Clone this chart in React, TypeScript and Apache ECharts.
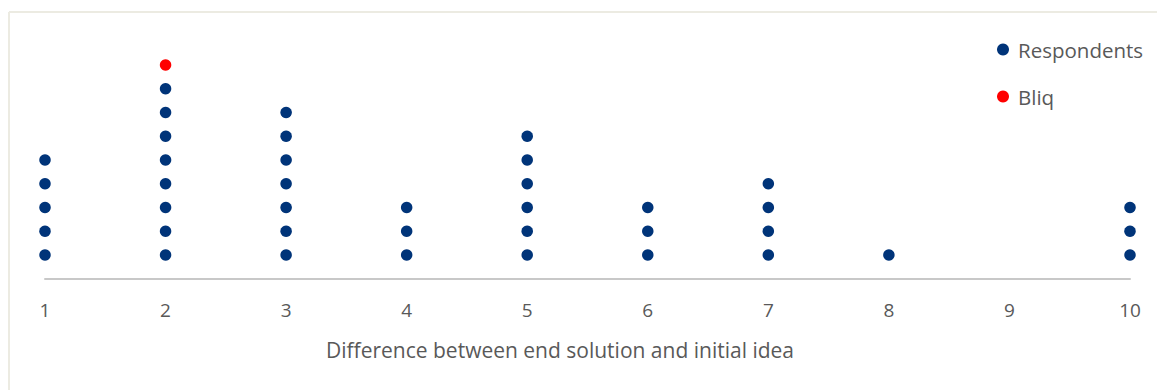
import React, { useEffect, useRef } from "react";
import * as echarts from "echarts";

const xValues = [1, 2, 3, 4, 5, 6, 7, 8, 9, 10];
const respondentCounts = [5, 8, 7, 3, 6, 3, 4, 1, 0, 3];
const bliqX = 2;
const bliqY = 9;
const xAxisTitle = "Difference between end solution and initial idea";

const BLUE = "#003479";
const RED = "#ff0000";
const GREY_TEXT = "#595959";
const FONT = "'Open Sans', 'Noto Sans', sans-serif";

export default function App() {
  const ref = useRef<HTMLDivElement>(null);
  useEffect(() => {
    if (!ref.current) return;
    const chart = echarts.init(ref.current, undefined, { renderer: "svg" });
    const respondentPoints: number[][] = [];
    xValues.forEach((x, i) => {
      for (let k = 1; k <= respondentCounts[i]; k++) respondentPoints.push([x, k]);
    });
    chart.setOption({
      animation: false,
      backgroundColor: "#ffffff",
      textStyle: { fontFamily: FONT },
      grid: { left: 45, right: 27, top: 17.5, bottom: 111.25, containLabel: false },
      xAxis: {
        type: "value",
        min: 1,
        max: 10,
        interval: 1,
        axisLine: { show: true, lineStyle: { color: "#c8c8c8", width: 2 } },
        axisTick: { show: false },
        splitLine: { show: false },
        axisLabel: { color: GREY_TEXT, fontSize: 19, margin: 22, fontFamily: FONT },
      },
      yAxis: {
        type: "value",
        min: 0,
        max: 11,
        show: false,
        splitLine: { show: false },
      },
      legend: {
        orient: "vertical",
        left: 992,
        top: 32,
        icon: "circle",
        itemWidth: 12,
        itemHeight: 12,
        itemGap: 22,
        textStyle: { color: GREY_TEXT, fontSize: 20.5, lineHeight: 25, fontFamily: FONT, padding: [0, 0, 0, 4] },
        data: ["Respondents", "Bliq"],
      },
      series: [
        {
          name: "Respondents",
          type: "scatter",
          symbol: "circle",
          symbolSize: 11.5,
          itemStyle: { color: BLUE, opacity: 1 },
          data: respondentPoints,
        },
        {
          name: "Bliq",
          type: "scatter",
          symbol: "circle",
          symbolSize: 11.5,
          itemStyle: { color: RED, opacity: 1 },
          data: [[bliqX, bliqY]],
        },
      ],
      graphic: [
        {
          type: "line",
          shape: { x1: 9, y1: 12, x2: 1157, y2: 12 },
          style: { stroke: "#ecebe2", lineWidth: 2 },
        },
        {
          type: "line",
          shape: { x1: 9, y1: 12, x2: 9, y2: 390 },
          style: { stroke: "#ecebe2", lineWidth: 2 },
        },
        {
          type: "text",
          x: 560,
          y: 350,
          style: {
            text: xAxisTitle,
            fill: GREY_TEXT,
            fontSize: 21,
            fontFamily: FONT,
            align: "center",
            verticalAlign: "middle",
          },
        },
      ],
    });
    return () => chart.dispose();
  }, []);
  return (
    <div
      ref={ref}
      style={{ position: "fixed", left: 0, top: 0, width: 1157, height: 390 }}
    />
  );
}
